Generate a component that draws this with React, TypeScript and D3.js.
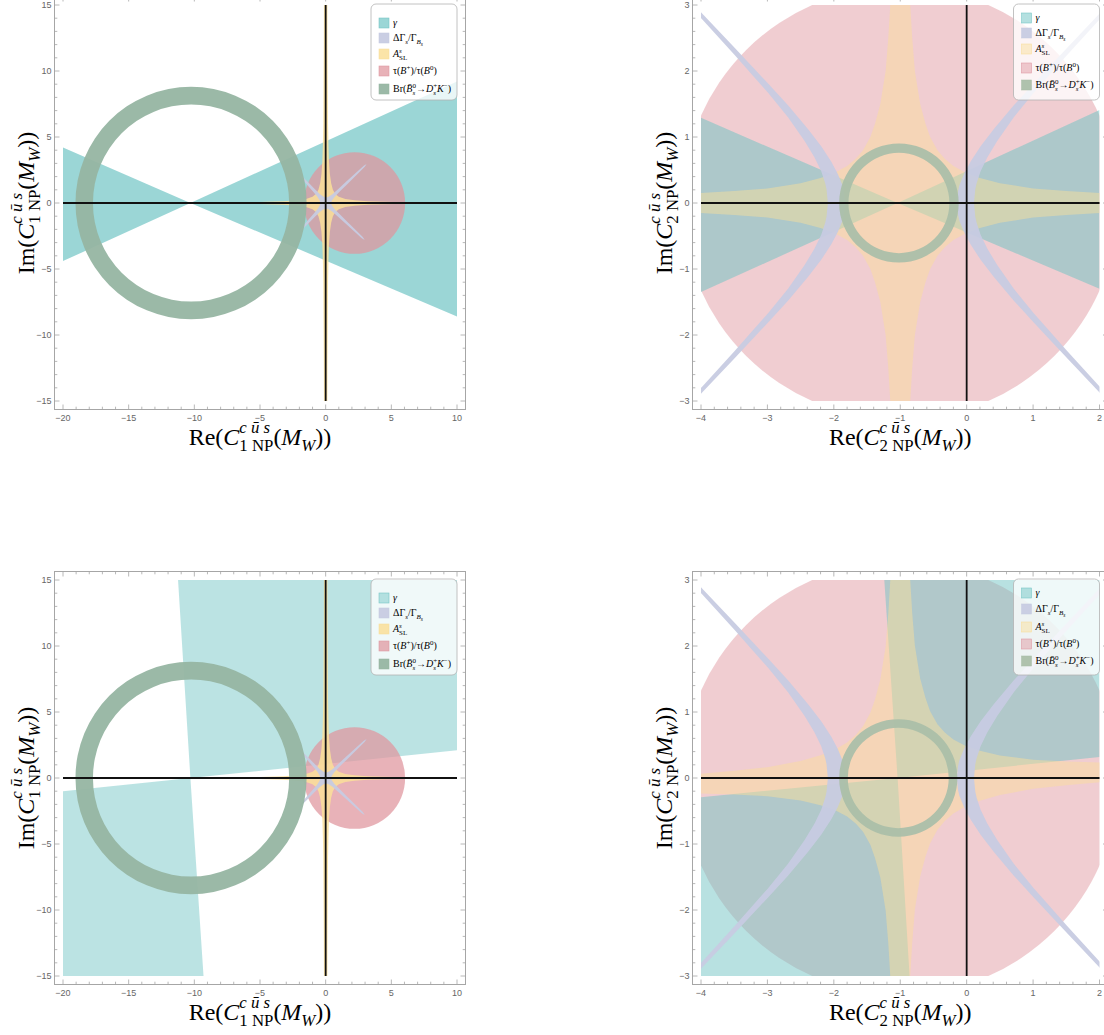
import React from 'react';
import * as d3 from 'd3';

type Pt = [number, number];

// ---------------- axis data ----------------
const c1XDomain: Pt = [-20, 10];
const c1YDomain: Pt = [-15, 15];
const c2XDomain: Pt = [-4, 2];
const c2YDomain: Pt = [-3, 3];
const c1XTicks = [-20, -15, -10, -5, 0, 5, 10];
const c1XTickLabels = ['\u221220', '\u221215', '\u221210', '\u22125', '0', '5', '10'];
const c1YTicks = [-15, -10, -5, 0, 5, 10, 15];
const c1YTickLabels = ['\u221215', '\u221210', '\u22125', '0', '5', '10', '15'];
const c2XTicks = [-4, -3, -2, -1, 0, 1, 2];
const c2XTickLabels = ['\u22124', '\u22123', '\u22122', '\u22121', '0', '1', '2'];
const c2YTicks = [-3, -2, -1, 0, 1, 2, 3];
const c2YTickLabels = ['\u22123', '\u22122', '\u22121', '0', '1', '2', '3'];

// ---------------- region data ----------------
// gamma constraint: double wedges (polygons in data units)
const gammaC1Top: Pt[][] = [
  [[-10.3, 0], [-20, 4.2], [-20, -4.4]],
  [[-10.3, 0], [10, 9.2], [10, -8.6]],
];
const gammaC1Bottom: Pt[][] = [
  [[-10.3, 0], [-11.24, 15], [10, 15], [10, 2.1]],
  [[-10.3, 0], [-9.3, -15], [-20, -15], [-20, -1.0]],
];
const gammaC2Top: Pt[][] = [
  [[-1.04, 0], [-4, 1.29], [-4, -1.35]],
  [[-1.04, 0], [2, 1.41], [2, -1.3]],
];
const gammaC2Bottom: Pt[][] = [
  [[-1.04, 0], [-1.24, 3], [2, 3], [2, 0.32]],
  [[-1.04, 0], [-0.86, -3], [-4, -3], [-4, -0.29]],
];

// tau(B+)/tau(B0): discs [cx, cy, r]
const tauC1 = [2.2, 0, 3.85];
const tauC2 = [-1.0, 0, 3.28];

// Br(Bs -> Ds K): rings [cx, cy, rOuter, rInner]
const brC1 = [-10.25, 0, 8.8, 7.47];
const brC2Top = [-1.02, 0, 0.9, 0.76];
const brC2Bottom = [-1.03, 0, 0.89, 0.76];

// A_SL: one quadrant of the cross-shaped boundary (top arm -> right arm)
const aslC1Quadrant: Pt[] = [
  [0.13, 15.5], [0.14, 12], [0.16, 9], [0.18, 6], [0.21, 4.5], [0.25, 3.2], [0.32, 2.2],
  [0.42, 1.5], [0.55, 1.0], [0.72, 0.7], [1.0, 0.48], [1.5, 0.3], [2.2, 0.2], [3.2, 0.13],
  [4.5, 0.09], [6, 0.05], [7.5, 0.02], [8.5, 0],
];
const aslC2Quadrant: Pt[] = [
  [0.14, 3.3], [0.15, 3], [0.18, 2.5], [0.22, 2], [0.3, 1.5], [0.38, 1.2], [0.45, 1.0],
  [0.56, 0.8], [0.67, 0.67], [0.8, 0.56], [1.0, 0.45], [1.2, 0.38], [1.5, 0.3], [2, 0.22],
  [2.5, 0.18], [3, 0.15], [3.3, 0.14],
];

// DeltaGamma_s: C1 star spikes (tips) and C2 hyperbolic band edges (|dx|, y)
const dgC1Tips: Pt[] = [[3.12, 2.96], [-1.98, 2.13], [-1.98, -2.13], [2.97, -2.8]];
const dgC1Profile: Pt[] = [[0.22, 0.34], [0.45, 0.2], [0.8, 0.13], [1.4, 0.11], [2.2, 0.095]];
const dgC2Inner: Pt[] = [
  [0.84, 0], [0.86, 0.18], [0.88, 0.27], [0.95, 0.44], [1.05, 0.63], [1.2, 0.86], [1.4, 1.12],
  [1.7, 1.48], [2.0, 1.81], [2.5, 2.35], [3.0, 2.88], [3.2, 3.09],
];
const dgC2Outer: Pt[] = [
  [1.1, 0], [1.12, 0.21], [1.14, 0.3], [1.2, 0.48], [1.3, 0.69], [1.45, 0.94], [1.7, 1.3],
  [2.0, 1.67], [2.5, 2.24], [3.0, 2.79], [3.25, 3.06],
];

// ---------------- styles ----------------
const TEAL = '#71C4C4';
const PINK = '#DF959E';
const YELLOW = '#FADF99';
const LAV = '#C7CBE1';
const SERIF = '"Liberation Serif", "Times New Roman", serif';
const SANS = '"Liberation Sans", Arial, sans-serif';

const COLS = [{ x0: 63, x1: 457 }, { x0: 701, x1: 1099.5 }];
const ROWS = [{ y0: 5, y1: 401 }, { y0: 580, y1: 976 }];
const PAD = 8.5;

// ---------------- rich text ----------------
type Piece = { t: string; i?: boolean; lvl?: number; ret?: boolean };
const LEVELS: Record<string, { s: number; dy: number }> = {
  '0': { s: 1, dy: 0 },
  '1': { s: 0.7, dy: -0.47 },
  '-1': { s: 0.7, dy: 0.28 },
  '-2': { s: 0.55, dy: 0.45 },
};
let ctx: CanvasRenderingContext2D | null = null;
function measure(t: string, size: number, italic?: boolean) {
  if (!ctx) ctx = document.createElement('canvas').getContext('2d');
  if (!ctx) return t.length * size * 0.5;
  ctx.font = `${italic ? 'italic ' : ''}${size}px "Liberation Serif"`;
  return ctx.measureText(t).width;
}
function RichText(props: { pieces: Piece[]; size: number; x: number; y: number; anchor?: string; rotate?: number }) {
  const { pieces, size, x, y, anchor = 'start', rotate = 0 } = props;
  let cx = 0;
  let pending = 0;
  const items: any[] = [];
  pieces.forEach((p) => {
    const L = LEVELS[String(p.lvl ?? 0)];
    const fs = size * L.s;
    const w = measure(p.t, fs, p.i);
    items.push({ ...p, x: cx, dy: L.dy * size, fs });
    if (p.ret) pending = Math.max(pending, w);
    else {
      cx += Math.max(w, pending);
      pending = 0;
    }
  });
  const off = anchor === 'middle' ? -cx / 2 : anchor === 'end' ? -cx : 0;
  return (
    <g transform={`translate(${x},${y}) rotate(${rotate})`}>
      {items.map((it, k) => (
        <text key={k} x={it.x + off} y={it.dy} fontSize={it.fs} fontStyle={it.i ? 'italic' : 'normal'}
          fontFamily={SERIF} fill="#000" style={{ whiteSpace: 'pre' }}>{it.t}</text>
      ))}
    </g>
  );
}
const axisLabel = (kind: string, n: string): Piece[] => [
  { t: kind + '(' }, { t: 'C', i: true }, { t: 'c \u016B s', i: true, lvl: 1, ret: true },
  { t: `${n} NP`, lvl: -1 }, { t: '(' }, { t: 'M', i: true }, { t: 'W', i: true, lvl: -1 }, { t: '))' },
];
const legendLabels: Piece[][] = [
  [{ t: '\u03B3', i: true }],
  [{ t: '\u0394\u0393' }, { t: 's', i: true, lvl: -1 }, { t: '/\u0393' }, { t: 'B', i: true, lvl: -1 }, { t: 's', i: true, lvl: -2 }],
  [{ t: 'A', i: true }, { t: 's', i: true, lvl: 1, ret: true }, { t: 'SL', lvl: -1 }],
  [{ t: '\u03C4(' }, { t: 'B', i: true }, { t: '+', lvl: 1 }, { t: ')/\u03C4(' }, { t: 'B', i: true }, { t: '0', lvl: 1 }, { t: ')' }],
  [{ t: 'Br(' }, { t: 'B\u0304', i: true }, { t: '0', lvl: 1, ret: true }, { t: 's', i: true, lvl: -1 }, { t: '\u2192' },
    { t: 'D', i: true }, { t: '+', lvl: 1, ret: true }, { t: 's', i: true, lvl: -1 }, { t: 'K', i: true }, { t: '\u2212', lvl: 1 }, { t: ')' }],
];

// ---------------- geometry helpers ----------------
function mirrorQuad(q: Pt[], cx: number, cy: number, tilt: number): Pt[] {
  const ur = q;
  const lr = q.slice().reverse().map(([a, b]) => [a, -b] as Pt);
  const ll = q.map(([a, b]) => [-a, -b] as Pt);
  const ul = q.slice().reverse().map(([a, b]) => [-a, b] as Pt);
  return [...ur, ...lr, ...ll, ...ul].map(([a, b]) => [cx + a, cy + b + tilt * a] as Pt);
}
function starPolygon(tips: Pt[], r0: number, profile: Pt[]): Pt[] {
  const sorted = tips.map((t) => ({ t, a: Math.atan2(t[1], t[0]) })).sort((p, q) => p.a - q.a);
  const pts: Pt[] = [];
  sorted.forEach((s, k) => {
    const next = sorted[(k + 1) % sorted.length];
    const L = Math.hypot(s.t[0], s.t[1]);
    const u = [s.t[0] / L, s.t[1] / L];
    const n = [-u[1], u[0]];
    const prof = profile.filter(([d]) => d < L - 0.4).concat([[L - 0.25, 0.06]]);
    prof.forEach(([d, w]) => pts.push([u[0] * d - n[0] * w, u[1] * d - n[1] * w]));
    pts.push([s.t[0], s.t[1]]);
    prof.slice().reverse().forEach(([d, w]) => pts.push([u[0] * d + n[0] * w, u[1] * d + n[1] * w]));
    let a2 = next.a;
    if (a2 <= s.a) a2 += 2 * Math.PI;
    const mid = (s.a + a2) / 2;
    pts.push([r0 * Math.cos(mid), r0 * Math.sin(mid)]);
  });
  return pts;
}
function hyperBand(cx: number, cy: number, inner: Pt[], outer: Pt[], side: number): Pt[] {
  const o = [
    ...outer.slice().reverse().map(([d, h]) => [cx + side * d, cy - h] as Pt),
    ...outer.slice(1).map(([d, h]) => [cx + side * d, cy + h] as Pt),
  ];
  const i = [
    ...inner.slice().reverse().map(([d, h]) => [cx + side * d, cy + h] as Pt),
    ...inner.slice(1).map(([d, h]) => [cx + side * d, cy - h] as Pt),
  ];
  return [...o, ...i];
}
function ellipsePath(cx: number, cy: number, rx: number, ry: number) {
  return `M${cx + rx},${cy}A${rx},${ry} 0 1 0 ${cx - rx},${cy}A${rx},${ry} 0 1 0 ${cx + rx},${cy}Z`;
}

// ---------------- panels ----------------
const panels = [
  {
    id: 'p1', col: 0, row: 0, n: '1', xDomain: c1XDomain, yDomain: c1YDomain,
    xTicks: c1XTicks, xLabels: c1XTickLabels, yTicks: c1YTicks, yLabels: c1YTickLabels, minor: 1,
    gamma: gammaC1Top, tau: tauC1, br: brC1, asl: { q: aslC1Quadrant, cx: 0, cy: 0, tilt: 0 }, dg: 'star',
    order: ['teal', 'pink', 'asl', 'dg', 'ring'],
    op: { teal: 0.7, pink: 0.73, asl: 0.85 }, ring: '#96B5A2',
    legendRows: [19, 34, 50, 67, 85],
  },
  {
    id: 'p2', col: 1, row: 0, n: '2', xDomain: c2XDomain, yDomain: c2YDomain,
    xTicks: c2XTicks, xLabels: c2XTickLabels, yTicks: c2YTicks, yLabels: c2YTickLabels, minor: 0.2,
    gamma: gammaC2Top, tau: tauC2, br: brC2Top, asl: { q: aslC2Quadrant, cx: -1.0, cy: 0, tilt: 0 }, dg: 'hyper',
    order: ['pink', 'teal', 'asl', 'dg', 'ring'],
    op: { teal: 0.53, pink: 0.47, asl: 0.47 }, ring: '#ABBFA9',
    legendRows: [14, 29, 45, 64, 81],
  },
  {
    id: 'p3', col: 0, row: 1, n: '1', xDomain: c1XDomain, yDomain: c1YDomain,
    xTicks: c1XTicks, xLabels: c1XTickLabels, yTicks: c1YTicks, yLabels: c1YTickLabels, minor: 1,
    gamma: gammaC1Bottom, tau: tauC1, br: brC1, asl: { q: aslC1Quadrant, cx: 0, cy: 0, tilt: 0 }, dg: 'star',
    order: ['teal', 'pink', 'asl', 'dg', 'ring'],
    op: { teal: 0.48, pink: 0.73, asl: 0.85 }, ring: '#96B5A2',
    legendRows: [19, 34, 50, 67, 85],
  },
  {
    id: 'p4', col: 1, row: 1, n: '2', xDomain: c2XDomain, yDomain: c2YDomain,
    xTicks: c2XTicks, xLabels: c2XTickLabels, yTicks: c2YTicks, yLabels: c2YTickLabels, minor: 0.2,
    gamma: gammaC2Bottom, tau: tauC2, br: brC2Bottom, asl: { q: aslC2Quadrant, cx: -1.0, cy: 0, tilt: 0.028 }, dg: 'hyper',
    order: ['pink', 'teal', 'asl', 'dg', 'ring'],
    op: { teal: 0.5, pink: 0.47, asl: 0.47 }, ring: '#ABBFA9',
    legendRows: [14, 30, 48, 65, 82],
  },
];

function Panel({ cfg }: { cfg: any }) {
  const col = COLS[cfg.col];
  const row = ROWS[cfg.row];
  const x = d3.scaleLinear().domain(cfg.xDomain).range([col.x0, col.x1]);
  const y = d3.scaleLinear().domain(cfg.yDomain).range([row.y1, row.y0]);
  const fx0 = col.x0 - PAD, fx1 = col.x1 + PAD, fy0 = row.y0 - PAD, fy1 = row.y1 + PAD;
  const line = d3.line<Pt>().x((d) => x(d[0])).y((d) => y(d[1]));
  const poly = (pts: Pt[]) => (line(pts) || '') + 'Z';
  const clipId = `clip-${cfg.id}`;

  const [tx, ty, tr] = cfg.tau;
  const [bx, by, bro, bri] = cfg.br;
  const rx = (cx: number, r: number) => x(cx + r) - x(cx);
  const ry = (cy: number, r: number) => y(cy) - y(cy + r);

  const dgPaths: string[] = cfg.dg === 'star'
    ? [poly(starPolygon(dgC1Tips, 0.3, dgC1Profile))]
    : [poly(hyperBand(-0.99, 0, dgC2Inner, dgC2Outer, -1)), poly(hyperBand(-0.99, 0, dgC2Inner, dgC2Outer, 1))];

  const layers: Record<string, React.ReactNode> = {
    teal: (
      <g key="teal" fill={TEAL} fillOpacity={cfg.op.teal}>
        <path d={cfg.gamma.map((p: Pt[]) => poly(p)).join('')} />
      </g>
    ),
    pink: (
      <ellipse key="pink" cx={x(tx)} cy={y(ty)} rx={rx(tx, tr)} ry={ry(ty, tr)} fill={PINK} fillOpacity={cfg.op.pink} />
    ),
    asl: (
      <path key="asl" d={poly(mirrorQuad(cfg.asl.q, cfg.asl.cx, cfg.asl.cy, cfg.asl.tilt))} fill={YELLOW} fillOpacity={cfg.op.asl} />
    ),
    dg: (
      <g key="dg" fill={LAV} fillOpacity={0.95}>
        {dgPaths.map((d, k) => <path key={k} d={d} />)}
      </g>
    ),
    ring: (
      <path key="ring" fillRule="evenodd" fill={cfg.ring} fillOpacity={0.95}
        d={ellipsePath(x(bx), y(by), rx(bx, bro), ry(by, bro)) + ellipsePath(x(bx), y(by), rx(bx, bri), ry(by, bri))} />
    ),
  };

  // ticks
  const [xa, xb] = cfg.xDomain;
  const [ya, yb] = cfg.yDomain;
  const xMinor = d3.range(Math.ceil(x.invert(fx0) / cfg.minor) * cfg.minor, x.invert(fx1), cfg.minor)
    .filter((v: number) => !cfg.xTicks.some((t: number) => Math.abs(t - v) < 1e-6));
  const yMinor = d3.range(Math.ceil(y.invert(fy1) / cfg.minor) * cfg.minor, y.invert(fy0), cfg.minor)
    .filter((v: number) => !cfg.yTicks.some((t: number) => Math.abs(t - v) < 1e-6));
  const frameColor = '#a6a6a6';
  const MJ = 5, MN = 2.8;

  const legendColors = [
    { c: TEAL, o: cfg.op.teal }, { c: LAV, o: 0.95 }, { c: YELLOW, o: cfg.op.asl }, { c: PINK, o: cfg.op.pink }, { c: cfg.ring, o: 0.95 },
  ];
  const lbW = 86, lbH = 96;
  const lbX = col.x1 - lbW;
  const lbY = row.y0 - 1;

  return (
    <g>
      <defs>
        <clipPath id={clipId}>
          <rect x={col.x0} y={row.y0} width={col.x1 - col.x0} height={row.y1 - row.y0} />
        </clipPath>
      </defs>
      <g clipPath={`url(#${clipId})`}>
        {cfg.order.map((k: string) => layers[k])}
      </g>
      {/* black axes */}
      <line x1={x(xa)} x2={x(xb)} y1={y(0)} y2={y(0)} stroke="#111" strokeWidth={1.8} />
      <line x1={x(0)} x2={x(0)} y1={y(ya)} y2={y(yb)} stroke="#111" strokeWidth={1.8} />
      {/* frame */}
      <rect x={fx0} y={fy0} width={fx1 - fx0} height={fy1 - fy0} fill="none" stroke={frameColor} strokeWidth={1} />
      <g stroke={frameColor} strokeWidth={0.8}>
        {cfg.xTicks.map((t: number) => (
          <g key={'xt' + t}>
            <line x1={x(t)} x2={x(t)} y1={fy1} y2={fy1 - MJ} />
            <line x1={x(t)} x2={x(t)} y1={fy0} y2={fy0 + MJ} />
          </g>
        ))}
        {xMinor.map((t: number) => (
          <g key={'xm' + t}>
            <line x1={x(t)} x2={x(t)} y1={fy1} y2={fy1 - MN} />
            <line x1={x(t)} x2={x(t)} y1={fy0} y2={fy0 + MN} />
          </g>
        ))}
        {cfg.yTicks.map((t: number) => (
          <g key={'yt' + t}>
            <line x1={fx0} x2={fx0 + MJ} y1={y(t)} y2={y(t)} />
            <line x1={fx1} x2={fx1 - MJ} y1={y(t)} y2={y(t)} />
          </g>
        ))}
        {yMinor.map((t: number) => (
          <g key={'ym' + t}>
            <line x1={fx0} x2={fx0 + MN} y1={y(t)} y2={y(t)} />
            <line x1={fx1} x2={fx1 - MN} y1={y(t)} y2={y(t)} />
          </g>
        ))}
      </g>
      <g fontFamily={SANS} fontSize={9} fill="#666">
        {cfg.xTicks.map((t: number, k: number) => (
          <text key={'xl' + t} x={x(t)} y={fy1 + 11} textAnchor="middle">{cfg.xLabels[k]}</text>
        ))}
        {cfg.yTicks.map((t: number, k: number) => (
          <text key={'yl' + t} x={fx0 - 3} y={y(t) + 3.2} textAnchor="end">{cfg.yLabels[k]}</text>
        ))}
      </g>
      {/* axis titles */}
      <RichText pieces={axisLabel('Re', cfg.n)} size={24} x={(col.x0 + col.x1) / 2} y={fy1 + 35} anchor="middle" />
      <RichText pieces={axisLabel('Im', cfg.n)} size={24} x={fx0 - 21} y={(row.y0 + row.y1) / 2} anchor="middle" rotate={-90} />
      {/* legend */}
      <g>
        <rect x={lbX} y={lbY} width={lbW} height={lbH} rx={5} fill="#fff" fillOpacity={0.78} stroke="#b3b3b3" strokeWidth={0.8} />
        {legendLabels.map((pcs, k) => (
          <g key={'lg' + k}>
            <rect x={lbX + 8} y={lbY + cfg.legendRows[k] - 5} width={10} height={10} fill={legendColors[k].c}
              fillOpacity={legendColors[k].o} stroke={legendColors[k].c} strokeOpacity={0.9} strokeWidth={0.6} />
            <RichText pieces={pcs} size={10} x={lbX + 22} y={lbY + cfg.legendRows[k] + 3.4} />
          </g>
        ))}
      </g>
    </g>
  );
}

export default function App() {
  return (
    <svg width={1104} height={1035} viewBox="0 0 1104 1035"
      style={{ position: 'absolute', left: 0, top: 0, background: '#fff' }}>
      <rect x={0} y={0} width={1104} height={1035} fill="#fff" />
      {panels.map((p) => <Panel key={p.id} cfg={p} />)}
    </svg>
  );
}
